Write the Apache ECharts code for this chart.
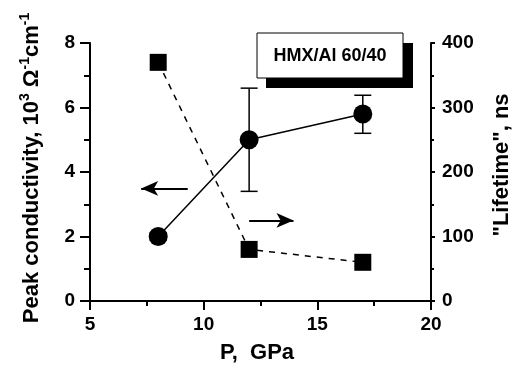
<!DOCTYPE html>
<html><head><meta charset="utf-8">
<script src="https://cdn.jsdelivr.net/npm/echarts@6/dist/echarts.min.js"></script>
<style>html,body{margin:0;padding:0;background:#fff}#c{width:516px;height:367px}</style>
</head><body><div id="c"></div>
<script>
// Data
const pressure = [8, 12, 17];                 // P, GPa
const conductivity = [2.0, 5.0, 5.8];         // 10^3 Ohm^-1 cm^-1
const condLow = [1.88, 3.4, 5.2];
const condHigh = [2.12, 6.6, 6.38];
const lifetime = [370, 80, 60];               // ns
const xTicks = [5, 10, 15, 20];
const leftTicks = [0, 2, 4, 6, 8];
const rightTicks = [0, 100, 200, 300, 400];
const boxLabel = 'HMX/Al 60/40';

const FONT = '"Liberation Sans", Arial, sans-serif';
const chart = echarts.init(document.getElementById('c'), null, {renderer: 'canvas'});
const lab = {color: '#000', fontFamily: FONT, fontWeight: 'bold', fontSize: 19};
const axLine = {show: true, lineStyle: {color: '#000', width: 2}};

chart.setOption({
  animation: false,
  backgroundColor: '#fff',
  grid: {left: 90, right: 85, top: 43, bottom: 66},
  xAxis: [{
    type: 'value', min: xTicks[0], max: xTicks[xTicks.length - 1], interval: 5,
    axisLine: axLine, splitLine: {show: false},
    axisTick: {show: true, inside: false, length: 9, lineStyle: {width: 2, color: '#000'}},
    minorTick: {show: true, splitNumber: 2, length: 5, lineStyle: {width: 2, color: '#000'}},
    axisLabel: Object.assign({margin: 14}, lab)
  }, {
    type: 'value', position: 'top', min: 5, max: 20, interval: 5,
    axisLine: axLine, splitLine: {show: false},
    axisTick: {show: true, inside: true, length: 2, lineStyle: {width: 2, color: '#000'}},
    minorTick: {show: true, splitNumber: 2, length: 2, lineStyle: {width: 2, color: '#000'}},
    axisLabel: {show: false}
  }],
  yAxis: [{
    type: 'value', min: leftTicks[0], max: leftTicks[leftTicks.length - 1], interval: 2,
    axisLine: axLine, splitLine: {show: false},
    axisTick: {show: true, inside: false, length: 10, lineStyle: {width: 2, color: '#000'}},
    minorTick: {show: true, splitNumber: 2, length: 6, lineStyle: {width: 2, color: '#000'}},
    axisLabel: Object.assign({margin: 15}, lab)
  }, {
    type: 'value', position: 'right', min: rightTicks[0], max: rightTicks[rightTicks.length - 1], interval: 100,
    axisLine: axLine, splitLine: {show: false},
    axisTick: {show: true, inside: false, length: 4, lineStyle: {width: 2, color: '#000'}},
    minorTick: {show: true, splitNumber: 2, length: 3, lineStyle: {width: 2, color: '#000'}},
    axisLabel: Object.assign({margin: 11}, lab)
  }],
  series: [{
    type: 'line', yAxisIndex: 1,
    data: pressure.map((p, i) => [p, lifetime[i]]),
    symbol: 'rect', symbolSize: 17,
    itemStyle: {color: '#000'},
    lineStyle: {color: '#000', width: 1.5, type: [6, 6]},
    z: 3
  }, {
    type: 'custom', xAxisIndex: 0, yAxisIndex: 0,
    data: pressure.map((p, i) => [p, condLow[i], condHigh[i]]),
    encode: {x: 0, y: [1, 2]},
    renderItem: function (params, api) {
      const x = api.value(0);
      const a = api.coord([x, api.value(1)]);
      const b = api.coord([x, api.value(2)]);
      const w = 8.5;
      const st = {stroke: '#000', lineWidth: 1.5};
      return {type: 'group', children: [
        {type: 'line', shape: {x1: a[0], y1: a[1], x2: b[0], y2: b[1]}, style: st},
        {type: 'line', shape: {x1: a[0] - w, y1: a[1], x2: a[0] + w, y2: a[1]}, style: st},
        {type: 'line', shape: {x1: b[0] - w, y1: b[1], x2: b[0] + w, y2: b[1]}, style: st}
      ]};
    },
    z: 4
  }, {
    type: 'line', yAxisIndex: 0,
    data: pressure.map((p, i) => [p, conductivity[i]]),
    symbol: 'circle', symbolSize: 19,
    itemStyle: {color: '#000'},
    lineStyle: {color: '#000', width: 1.5},
    z: 5,
    markLine: {
      silent: true, animation: false,
      symbol: ['none', 'arrow'], symbolSize: [11, 17],
      label: {show: false},
      lineStyle: {color: '#000', width: 2, type: 'solid'},
      data: [
        [{coord: [9.3, 3.49]}, {coord: [7.25, 3.49]}],
        [{coord: [12.0, 2.5]}, {coord: [13.95, 2.5]}]
      ]
    }
  }],
  graphic: [
    {type: 'rect', z: 100, shape: {x: 266, y: 43, width: 147, height: 45}, style: {fill: '#000'}},
    {type: 'rect', z: 101, shape: {x: 257, y: 33, width: 146, height: 45}, style: {fill: '#fff', stroke: '#000', lineWidth: 1}},
    {type: 'text', z: 102, x: 330, y: 56, style: {text: boxLabel, font: 'bold 18px ' + FONT, fill: '#000', align: 'center', verticalAlign: 'middle'}},
    {type: 'text', z: 50, x: 32, y: 168, rotation: Math.PI / 2,
      style: {
        text: '{a|Peak conductivity, 10}{s|3}{a| Ω}{s|-1}{a|cm}{s|-1}',
        align: 'center', verticalAlign: 'middle',
        rich: {
          a: {fontFamily: FONT, fontWeight: 'bold', fontSize: 22, fill: '#000', color: '#000'},
          s: {fontFamily: FONT, fontWeight: 'bold', fontSize: 14, fill: '#000', color: '#000', padding: [0, 0, 13, 0]}
        }
      }},
    {type: 'text', z: 50, x: 502, y: 165, rotation: Math.PI / 2,
      style: {text: '"Lifetime", ns', font: 'bold 22px ' + FONT, fill: '#000', align: 'center', verticalAlign: 'middle'}},
    {type: 'text', z: 50, x: 257, y: 353,
      style: {text: 'P,  GPa', font: 'bold 22px ' + FONT, fill: '#000', align: 'center', verticalAlign: 'middle', whiteSpace: 'pre'}}
  ]
});
</script></body></html>
